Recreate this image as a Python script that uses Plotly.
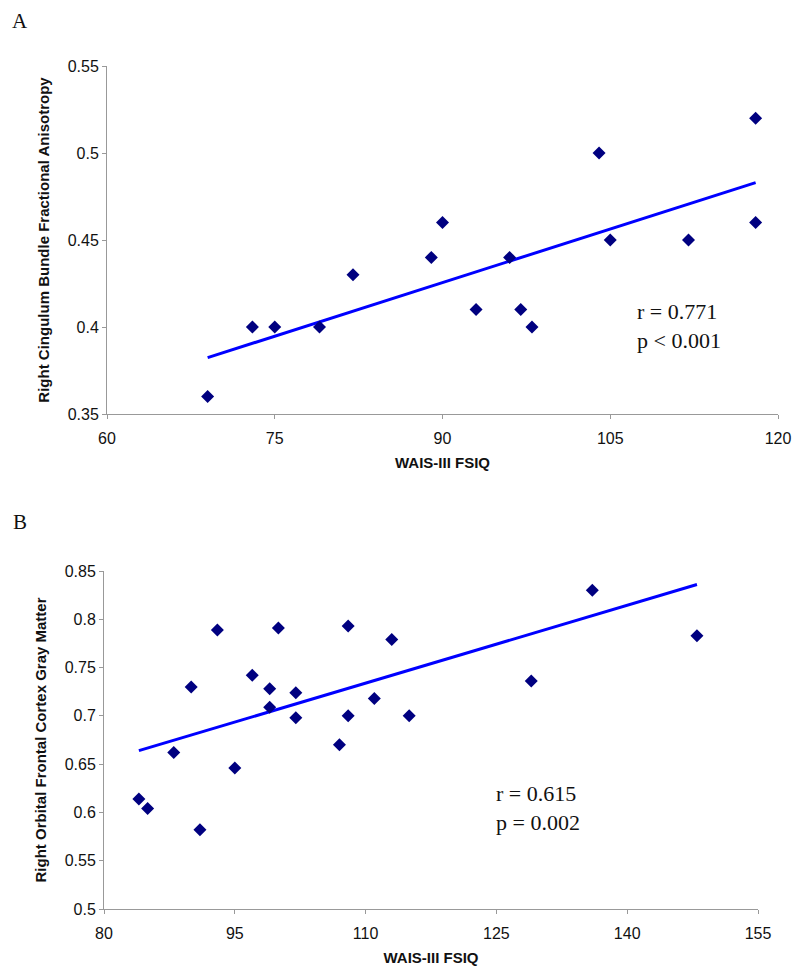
import plotly.graph_objects as go

# Panel A data
a_fsiq = [69, 73, 75, 79, 82, 89, 90, 93, 96, 97, 98, 104, 105, 112, 118, 118]
a_fa = [0.36, 0.40, 0.40, 0.40, 0.43, 0.44, 0.46, 0.41, 0.44, 0.41, 0.40, 0.50, 0.45, 0.45, 0.52, 0.46]
a_trend_x = [69, 118]
a_trend_y = [0.3824, 0.483]

# Panel B data
b_fsiq = [84, 85, 88, 90, 91, 93, 95, 97, 99, 99, 100, 102, 102, 107, 108, 108, 111, 113, 115, 129, 136, 148]
b_gm = [0.614, 0.604, 0.662, 0.730, 0.582, 0.789, 0.646, 0.742, 0.728, 0.709, 0.791, 0.724, 0.698,
        0.670, 0.793, 0.700, 0.718, 0.779, 0.700, 0.736, 0.830, 0.783]
b_trend_x = [84, 148]
b_trend_y = [0.664, 0.836]

a_stats = ["r = 0.771", "p < 0.001"]
b_stats = ["r = 0.615", "p = 0.002"]
x_title = "WAIS-III FSIQ"
a_ytitle = "Right Cingulum Bundle Fractional Anisotropy"
b_ytitle = "Right Orbital Frontal Cortex Gray Matter"

fig = go.Figure()
marker = dict(symbol="diamond", size=10, color="#000080")
line = dict(color="#0000FF", width=3)

fig.add_trace(go.Scatter(x=a_trend_x, y=a_trend_y, mode="lines", line=line, xaxis="x", yaxis="y", showlegend=False))
fig.add_trace(go.Scatter(x=a_fsiq, y=a_fa, mode="markers", marker=marker, xaxis="x", yaxis="y", showlegend=False))
fig.add_trace(go.Scatter(x=b_trend_x, y=b_trend_y, mode="lines", line=line, xaxis="x2", yaxis="y2", showlegend=False))
fig.add_trace(go.Scatter(x=b_fsiq, y=b_gm, mode="markers", marker=marker, xaxis="x2", yaxis="y2", showlegend=False))

# page body has an 8px margin; the figure is sized to fit inside the 800x976 window
OFF = 8
W, H = 800 - 2 * OFF, 976 - 2 * OFF


def px(x):
    return (x - OFF) / W


def py(y):
    return 1 - (y - OFF) / H


axcommon = dict(showgrid=False, zeroline=False, showline=True, linecolor="#999999", linewidth=1,
                ticks="outside", ticklen=4, tickcolor="#999999", tickwidth=1, automargin=False,
                tickfont=dict(family="Arial, Liberation Sans", size=16, color="#111111"))
titlefont = dict(family="Arial, Liberation Sans", size=15, color="#111111", weight="bold")

fig.update_layout(
    width=W, height=H, autosize=False,
    margin=dict(l=0, r=0, t=0, b=0),
    paper_bgcolor="white", plot_bgcolor="white",
    xaxis=dict(domain=[px(107), px(778)], range=[60, 120], tickmode="linear", tick0=60, dtick=15,
               anchor="y", ticklabelstandoff=6, title=dict(text=x_title, font=titlefont, standoff=11), **axcommon),
    yaxis=dict(domain=[py(414), py(66)], range=[0.35, 0.55], tickmode="linear", tick0=0.35, dtick=0.05,
               anchor="x", title=dict(text=a_ytitle, font=titlefont, standoff=14), **axcommon),
    xaxis2=dict(domain=[px(104), px(758)], range=[80, 155], tickmode="linear", tick0=80, dtick=15,
                anchor="y2", ticklabelstandoff=6, title=dict(text=x_title, font=titlefont, standoff=11), **axcommon),
    yaxis2=dict(domain=[py(909), py(571)], range=[0.5, 0.85], tickmode="linear", tick0=0.5, dtick=0.05,
                anchor="x2", title=dict(text=b_ytitle, font=titlefont, standoff=14), **axcommon),
)

serif = dict(family="Times New Roman, Liberation Serif", size=22, color="#111111")
fig.add_annotation(x=px(635), y=py(326), xref="paper", yref="paper", xanchor="left", yanchor="middle",
                   text="<br>".join(a_stats), showarrow=False, align="left", font=serif)
fig.add_annotation(x=px(494), y=py(808), xref="paper", yref="paper", xanchor="left", yanchor="middle",
                   text="<br>".join(b_stats), showarrow=False, align="left", font=serif)
fig.add_annotation(x=px(11), y=py(8), xref="paper", yref="paper", xanchor="left", yanchor="top", borderpad=0,
                   text="A", showarrow=False, font=dict(family="Times New Roman, Liberation Serif", size=21, color="#111111"))
fig.add_annotation(x=px(11), y=py(522), xref="paper", yref="paper", xanchor="left", yanchor="middle",
                   text="B", showarrow=False, font=dict(family="Times New Roman, Liberation Serif", size=21, color="#111111"))

fig.write_html("out.html")
